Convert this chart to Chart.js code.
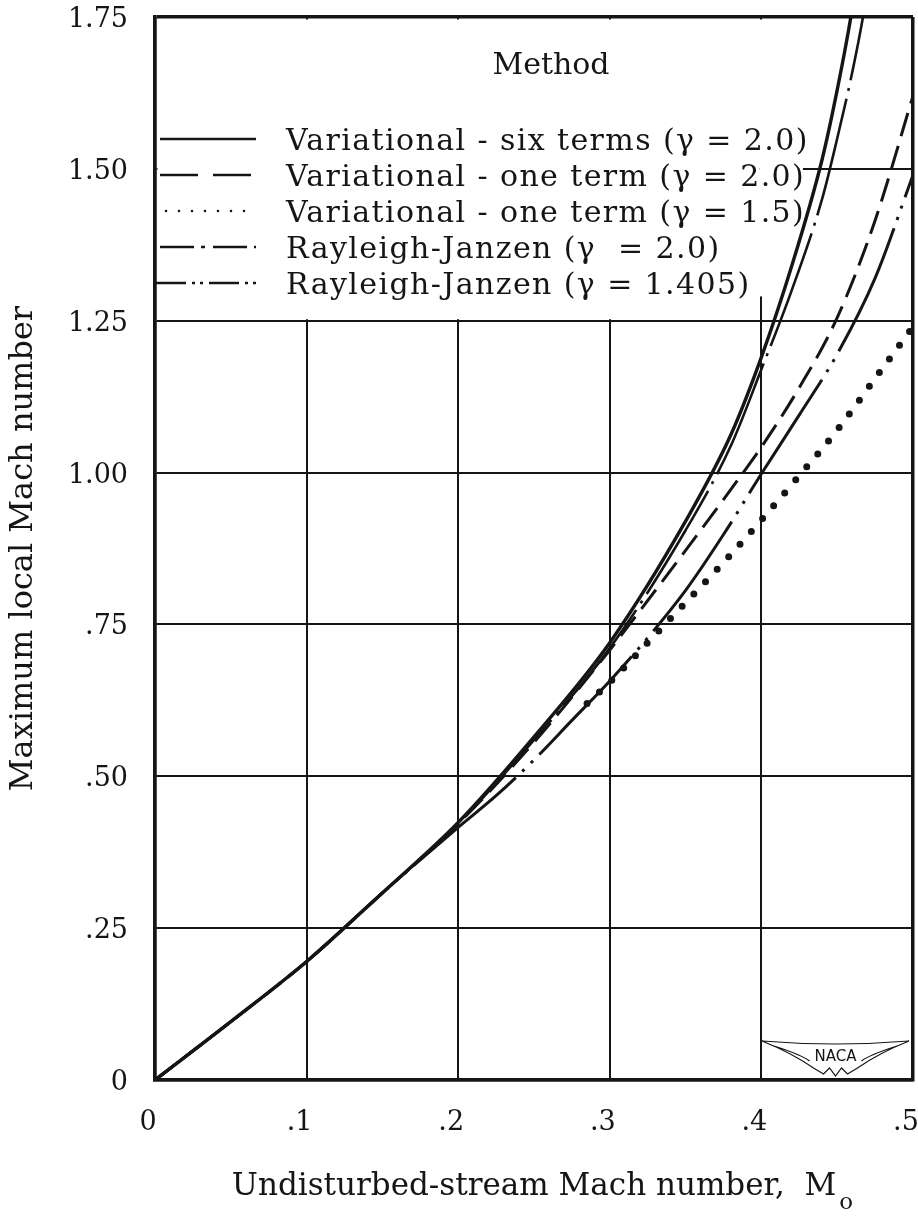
<!DOCTYPE html>
<html><head><meta charset="utf-8">
<script src="https://cdn.jsdelivr.net/npm/chart.js@4/dist/chart.umd.min.js"></script>
<style>html,body{margin:0;padding:0;background:#fff;}canvas{display:block;}</style>
</head><body>
<canvas id="c" width="918" height="1217"></canvas>
<script>
// ---- tick values / labels ----
const xTickValues = [0, 0.1, 0.2, 0.3, 0.4, 0.5];
const xTickLabels = ['0', '.1', '.2', '.3', '.4', '.5'];
const yTickValues = [0, 0.25, 0.5, 0.75, 1.0, 1.25, 1.5, 1.75];
const yTickLabels = ['0', '.25', '.50', '.75', '1.00', '1.25', '1.50', '1.75'];

// ---- series (legend order) ----
const seriesLabels = [
  'Variational - six terms (\u03B3 = 2.0)',
  'Variational - one term (\u03B3 = 2.0)',
  'Variational - one term (\u03B3 = 1.5)',
  'Rayleigh-Janzen (\u03B3  = 2.0)',
  'Rayleigh-Janzen (\u03B3 = 1.405)'
];

// Variational - six terms (gamma = 2.0)
const sixTermsX = [0, 0.05, 0.1, 0.15, 0.2, 0.25, 0.3, 0.35, 0.38, 0.4, 0.42, 0.44, 0.45, 0.459, 0.465];
const sixTermsY = [0, 0.096, 0.195, 0.308, 0.424, 0.565, 0.72, 0.92, 1.063, 1.19, 1.34, 1.515, 1.63, 1.75, 1.85];

// Variational - one term (gamma = 2.0)
const oneTerm20X = [0, 0.05, 0.1, 0.15, 0.2, 0.25, 0.3, 0.313, 0.35, 0.388, 0.4, 0.425, 0.45, 0.475, 0.5];
const oneTerm20Y = [0, 0.096, 0.195, 0.308, 0.422, 0.556, 0.708, 0.75, 0.872, 1.0, 1.042, 1.14, 1.255, 1.415, 1.62];

// Variational - one term (gamma = 1.5)
const oneTerm15X = [0.285, 0.3, 0.325, 0.35, 0.375, 0.4, 0.425, 0.45, 0.475, 0.5];
const oneTerm15Y = [0.62, 0.655, 0.72, 0.786, 0.852, 0.922, 0.995, 1.07, 1.155, 1.24];

// Rayleigh-Janzen (gamma = 2.0)
const rj20X = [0, 0.05, 0.1, 0.15, 0.2, 0.25, 0.3, 0.35, 0.38, 0.4, 0.42, 0.44, 0.45, 0.46, 0.467, 0.472];
const rj20Y = [0, 0.096, 0.195, 0.308, 0.422, 0.56, 0.711, 0.905, 1.045, 1.17, 1.30, 1.45, 1.55, 1.66, 1.75, 1.83];

// Rayleigh-Janzen (gamma = 1.405)
const rj1405X = [0, 0.05, 0.1, 0.15, 0.2, 0.225, 0.25, 0.275, 0.3, 0.325, 0.35, 0.375, 0.4, 0.425, 0.45, 0.475, 0.5];
const rj1405Y = [0, 0.096, 0.195, 0.308, 0.416, 0.468, 0.527, 0.592, 0.657, 0.728, 0.806, 0.898, 0.998, 1.095, 1.195, 1.32, 1.49];

// ---- layout constants (not data) ----
const ink = '#151515';
const serif = "'DejaVu Serif', 'Liberation Serif', serif";
const legendRightValue = 0.4274;   // where the 1.50 grid line resumes
const legendBottomValue = 1.25;
const stubX = 0.4, stubTopValue = 1.29;

function pts(xs, ys) { return xs.map((x, i) => ({ x: x, y: ys[i] })); }

const common = { borderColor: ink, pointRadius: 0, pointHoverRadius: 0, fill: false, cubicInterpolationMode: 'monotone' };

const datasets = [
  Object.assign({}, common, { label: seriesLabels[0], data: pts(sixTermsX, sixTermsY), borderWidth: 3.4, borderDash: [],
    legendDash: [], legendWidth: 2.4, legendStart: 160 }),
  Object.assign({}, common, { label: seriesLabels[1], data: pts(oneTerm20X, oneTerm20Y), borderWidth: 3, borderDash: [24, 10],
    legendDash: [38, 15], legendWidth: 2.6, legendStart: 160 }),
  Object.assign({}, common, { label: seriesLabels[2], data: pts(oneTerm15X, oneTerm15Y), borderWidth: 7, borderDash: [0, 17], borderCapStyle: 'round',
    legendDash: [0, 13], legendWidth: 2.6, legendCap: 'round', legendStart: 166 }),
  Object.assign({}, common, { label: seriesLabels[3], data: pts(rj20X, rj20Y), borderWidth: 2.6, borderDash: [120, 8, 3, 8],
    legendDash: [34, 7, 4, 8], legendWidth: 2.6, legendStart: 160 }),
  Object.assign({}, common, { label: seriesLabels[4], data: pts(rj1405X, rj1405Y), borderWidth: 3, borderDash: [135, 9, 3, 9, 3, 9],
    legendDash: [30, 6, 3, 5, 3, 6], legendWidth: 2.6, legendStart: 156 })
];

const paperPlugin = {
  id: 'paper',
  beforeDatasetsDraw(chart) {
    const { ctx, scales: { x, y } } = chart;
    ctx.save();
    ctx.fillStyle = '#fff';
    const left = x.getPixelForValue(0) + 2.5;
    const top = y.getPixelForValue(1.75) + 2.5;
    const bottom = y.getPixelForValue(legendBottomValue) - 1.5;
    const sx = x.getPixelForValue(stubX);
    const right = x.getPixelForValue(legendRightValue);
    ctx.fillRect(left, top, sx - 2 - left, bottom - top);
    ctx.fillRect(sx - 2, top, right - sx + 2, y.getPixelForValue(stubTopValue) - top);
    ctx.restore();
  },
  afterDatasetsDraw(chart) {
    const { ctx } = chart;
    ctx.save();
    ctx.fillStyle = ink;
    ctx.strokeStyle = ink;
    ctx.font = '30px ' + serif;
    ctx.textAlign = 'center';
    ctx.textBaseline = 'middle';
    ctx.fillText('Method', 551, 66);
    const rowY = [139, 175, 211, 247, 283];
    chart.data.datasets.forEach((ds, i) => {
      const yy = rowY[i];
      ctx.beginPath();
      ctx.setLineDash(ds.legendDash);
      ctx.lineWidth = ds.legendWidth;
      ctx.lineCap = ds.legendCap || 'butt';
      ctx.moveTo(ds.legendStart, yy);
      ctx.lineTo(256, yy);
      ctx.stroke();
      ctx.setLineDash([]);
      ctx.textAlign = 'left';
      ctx.textBaseline = 'middle';
      try { ctx.letterSpacing = '1.4px'; } catch (e) {}
      ctx.fillText(ds.label, 286, yy + 3);
      try { ctx.letterSpacing = '0px'; } catch (e) {}
    });
    ctx.restore();
  },
  afterDraw(chart) {
    const { ctx, scales: { x, y } } = chart;
    ctx.save();
    // subscript o of M_o
    const t = chart.options.scales.x.title;
    ctx.font = t.font.size + 'px ' + serif;
    const w = ctx.measureText(t.text).width;
    const cx = (x.left + x.right) / 2;
    const ty = chart.height - (t.font.size * 1.2 / 2 + t.padding.bottom);
    ctx.fillStyle = ink;
    ctx.font = '23px ' + serif;
    ctx.textAlign = 'left';
    ctx.textBaseline = 'middle';
    ctx.fillText('o', cx + w / 2 + 3, ty + 16);

    // NACA emblem (lower right)
    const r = x.right, b = y.bottom;
    const L = r - 151, R = r - 4, T = b - 39, C = (L + R) / 2;
    ctx.strokeStyle = ink;
    ctx.lineWidth = 1.2;
    ctx.beginPath();
    ctx.moveTo(L, T); ctx.quadraticCurveTo(C, T + 6, R, T);
    ctx.moveTo(L, T); ctx.quadraticCurveTo(L + 30, T + 12, C - 22, T + 27);
    ctx.moveTo(R, T); ctx.quadraticCurveTo(R - 30, T + 12, C + 22, T + 27);
    ctx.moveTo(L + 12, T + 5); ctx.quadraticCurveTo(L + 40, T + 14, C - 26, T + 20);
    ctx.moveTo(R - 12, T + 5); ctx.quadraticCurveTo(R - 40, T + 14, C + 26, T + 20);
    ctx.moveTo(C - 22, T + 27); ctx.lineTo(C - 12, T + 33); ctx.lineTo(C - 6, T + 27); ctx.lineTo(C, T + 35);
    ctx.lineTo(C + 6, T + 27); ctx.lineTo(C + 12, T + 33); ctx.lineTo(C + 22, T + 27);
    ctx.stroke();
    ctx.font = '15px "DejaVu Sans", sans-serif';
    ctx.textAlign = 'center';
    ctx.fillText('NACA', C, T + 16);
    ctx.restore();
  }
};

const frameValueX = v => v === 0 || v === 0.5;
const frameValueY = v => v === 0 || v === 1.75;

new Chart(document.getElementById('c'), {
  type: 'line',
  data: { datasets: datasets },
  plugins: [paperPlugin],
  options: {
    responsive: false,
    animation: false,
    devicePixelRatio: 1,
    layout: { padding: { top: 17, right: 5, left: 0, bottom: 0 } },
    plugins: { legend: { display: false }, tooltip: { enabled: false } },
    elements: { line: { tension: 0 } },
    scales: {
      x: {
        type: 'linear', min: 0, max: 0.5,
        afterBuildTicks: s => { s.ticks = xTickValues.map(v => ({ value: v })); },
        afterFit: s => { s.height = 137; s.paddingLeft = 0; s.paddingRight = 0; },
        ticks: {
          callback: (v, i) => xTickLabels[i],
          font: { family: serif, size: 27 }, color: ink, padding: 27, labelOffset: -7,
          maxRotation: 0, autoSkip: false
        },
        grid: {
          color: ink, drawTicks: false,
          lineWidth: c => (c.tick && frameValueX(c.tick.value)) ? 3.5 : 2
        },
        border: { display: true, color: ink, width: 3.5 },
        title: {
          display: true, text: 'Undisturbed-stream Mach number,  M',
          font: { family: serif, size: 31 }, color: ink, padding: { top: 0, bottom: 11 }
        }
      },
      y: {
        type: 'linear', min: 0, max: 1.75,
        afterBuildTicks: s => { s.ticks = yTickValues.map(v => ({ value: v })); },
        afterFit: s => { s.width = 155; s.paddingTop = 0; s.paddingBottom = 0; },
        ticks: {
          callback: (v, i) => yTickLabels[i],
          font: { family: serif, size: 27 }, color: ink, padding: 27, labelOffset: 3,
          autoSkip: false
        },
        grid: {
          color: ink, drawTicks: false,
          lineWidth: c => (c.tick && frameValueY(c.tick.value)) ? 3.5 : 2
        },
        border: { display: true, color: ink, width: 3.5 },
        title: {
          display: true, text: 'Maximum local Mach number',
          font: { family: serif, size: 32 }, color: ink, padding: { top: 4, bottom: 0 }
        }
      }
    }
  }
});
</script>
</body></html>
